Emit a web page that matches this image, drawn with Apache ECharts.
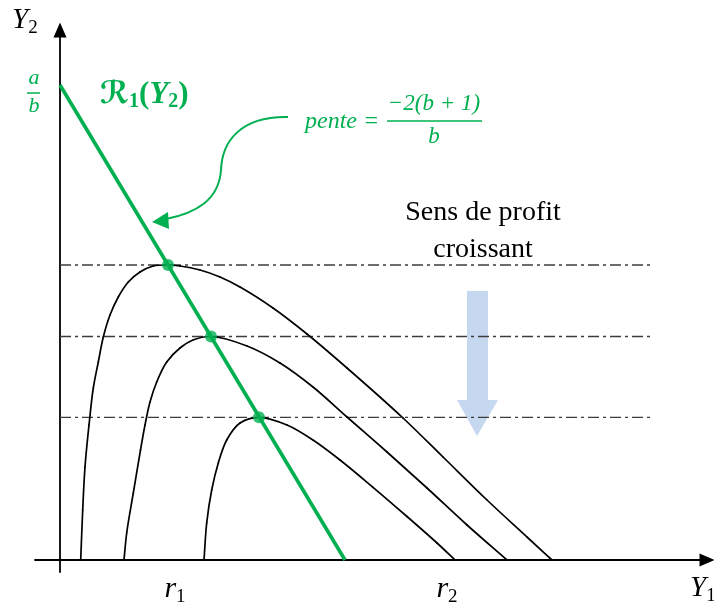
<!DOCTYPE html>
<html>
<head>
<meta charset="utf-8">
<script src="https://cdn.jsdelivr.net/npm/echarts@6/dist/echarts.min.js"></script>
<style>
  html, body { margin: 0; padding: 0; background: #fff; }
  #chart { width: 714px; height: 607px; }
</style>
</head>
<body>
<div id="chart"></div>
<script>
// Best-response line R1(Y2): from the intercept a/b down to the Y1 axis
const reactionLine = [[0, 47.5], [28.5, 0]];

// Iso-profit curves (Y1, Y2), highest level of Y2 first
const isoProfitHigh = [
  [2.07, 0], [2.27, 5.0], [2.5, 9.3], [2.9, 13.5], [3.33, 17.2], [3.83, 19.8],
  [4.33, 22.3], [5.0, 24.5], [5.83, 26.3], [6.83, 27.8], [8.0, 28.8], [9.33, 29.4],
  [10.8, 29.5], [12.0, 29.4], [14.0, 29.0], [16.0, 28.3], [18.0, 27.3], [21.3, 25.2],
  [24.7, 22.6], [28.7, 19.2], [34.3, 14.2], [38.3, 10.3], [42.7, 6.0], [46.7, 2.3],
  [49.2, 0]
];
const isoProfitMid = [
  [6.4, 0], [6.67, 2.7], [7.33, 6.7], [8.05, 11.0], [8.5, 13.5], [9.0, 15.8],
  [9.67, 17.8], [10.67, 19.8], [12.0, 21.2], [13.3, 22.0], [15.1, 22.35], [18.7, 21.4],
  [22.0, 19.7], [25.3, 17.3], [28.7, 14.3], [32.7, 10.8], [36.7, 7.2], [40.7, 3.5],
  [44.7, 0]
];
const isoProfitLow = [
  [14.4, 0], [14.67, 3.7], [15.17, 7.0], [15.83, 9.7], [16.67, 12.0], [18.0, 13.7],
  [19.9, 14.27], [22.7, 13.5], [25.3, 12.0], [28.0, 10.0], [31.3, 7.27], [34.7, 4.35],
  [37.7, 1.7], [39.5, 0]
];

// Tangency points of the iso-profit curves with R1
const tangencyPoints = [[10.8, 29.5], [15.1, 22.35], [19.9, 14.27]];

// Dash-dot reference levels
const levelValues = [29.5, 22.35, 14.27];
const levelEndX = 59;

// Labels under the Y1 axis
const xTickLabels = [{ x: 11.5, main: 'r', sub: '1' }, { x: 38.7, main: 'r', sub: '2' }];

const GREEN = '#00b050';
const MATH = "'Liberation Serif', 'DejaVu Serif', 'DejaVu Sans', serif";
const SERIF = "'Liberation Serif', 'DejaVu Serif', serif";

const chart = echarts.init(document.getElementById('chart'), null, { renderer: 'canvas' });

const axisCommon = {
  type: 'value',
  axisLine: {
    show: true,
    onZero: true,
    symbol: ['none', 'triangle'],
    symbolSize: [13, 15],
    lineStyle: { color: '#000', width: 1.8 }
  },
  axisTick: { show: false },
  axisLabel: { show: false },
  splitLine: { show: false }
};

const levelSeries = levelValues.map(v => ({
  type: 'line',
  data: [[0, v], [levelEndX, v]],
  symbol: 'none',
  silent: true,
  z: 1,
  lineStyle: { color: '#3c3c3c', width: 1.3, type: [11, 4, 3, 4] }
}));

// Smooth curve through the points: one centripetal Catmull-Rom segment per item,
// drawn in pixel space after projecting every point through the grid.
function curveSeries(points) {
  return {
    type: 'custom',
    coordinateSystem: 'cartesian2d',
    data: points,
    silent: true,
    z: 2,
    encode: { x: 0, y: 1 },
    renderItem: function (params, api) {
      const i = params.dataIndex;
      if (i >= points.length - 1) return null;
      const P = k => api.coord(points[Math.max(0, Math.min(points.length - 1, k))]);
      const p0 = P(i - 1), p1 = P(i), p2 = P(i + 1), p3 = P(i + 2);
      const dist = (a, b) => Math.hypot(b[0] - a[0], b[1] - a[1]);
      const l01 = Math.sqrt(dist(p0, p1)), l12 = Math.sqrt(dist(p1, p2)), l23 = Math.sqrt(dist(p2, p3));
      let c1, c2;
      if (l01 > 1e-6) {
        const a = 2 * l01 * l01 + 3 * l01 * l12 + l12 * l12, n = 3 * l01 * (l01 + l12);
        c1 = [0, 1].map(j => (p1[j] * a - p0[j] * l12 * l12 + p2[j] * l01 * l01) / n);
      } else {
        c1 = [0, 1].map(j => p1[j] + (p2[j] - p1[j]) / 3);
      }
      if (l23 > 1e-6) {
        const b = 2 * l23 * l23 + 3 * l23 * l12 + l12 * l12, m = 3 * l23 * (l23 + l12);
        c2 = [0, 1].map(j => (p2[j] * b + p1[j] * l23 * l23 - p3[j] * l12 * l12) / m);
      } else {
        c2 = [0, 1].map(j => p2[j] - (p2[j] - p1[j]) / 3);
      }
      return {
        type: 'bezierCurve',
        shape: { x1: p1[0], y1: p1[1], cpx1: c1[0], cpy1: c1[1], cpx2: c2[0], cpy2: c2[1], x2: p2[0], y2: p2[1] },
        style: { stroke: '#000', lineWidth: 1.7, fill: null, lineCap: 'round' }
      };
    }
  };
}

chart.setOption({
  animation: false,
  backgroundColor: '#fff',
  grid: { left: 35, right: 7, top: 30, bottom: 35 },
  xAxis: Object.assign({ min: -2.5, max: 64.7 }, axisCommon),
  yAxis: Object.assign({ min: -1.2, max: 53.0 }, axisCommon),
  series: [
    ...levelSeries,
    curveSeries(isoProfitHigh),
    curveSeries(isoProfitMid),
    curveSeries(isoProfitLow),
    {
      type: 'line',
      data: reactionLine,
      symbol: 'none',
      silent: true,
      z: 3,
      lineStyle: { color: GREEN, width: 3.6 }
    },
    {
      type: 'scatter',
      data: tangencyPoints,
      symbol: 'circle',
      symbolSize: 12,
      silent: true,
      z: 4,
      itemStyle: { color: GREEN }
    }
  ]
});

// Text measuring for laying out math runs (main letter + subscript)
const measureCtx = document.createElement('canvas').getContext('2d');
function fontOf(p) {
  return `${p.italic ? 'italic ' : ''}${p.bold ? 'bold ' : ''}${p.size}px ${p.family || MATH}`;
}
function widthOf(p) {
  measureCtx.font = fontOf(p);
  return measureCtx.measureText(p.t).width;
}
function textRun(x, y, parts, color, align) {
  const total = parts.reduce((s, p) => s + widthOf(p) + (p.gap || 0), 0);
  let cx = align === 'center' ? x - total / 2 : (align === 'right' ? x - total : x);
  return parts.map(p => {
    const w = widthOf(p);
    const el = {
      type: 'text',
      x: cx + (p.gap || 0),
      y: y + (p.dy || 0),
      silent: true,
      z: 10,
      style: {
        text: p.t,
        fill: color,
        fontSize: p.size,
        fontFamily: p.family || MATH,
        fontStyle: p.italic ? 'italic' : 'normal',
        fontWeight: p.bold ? 'bold' : 'normal',
        align: 'left',
        verticalAlign: 'middle'
      }
    };
    cx += w + (p.gap || 0);
    return el;
  });
}

const px = (x, y) => chart.convertToPixel({ gridIndex: 0 }, [x, y]);
const origin = px(0, 0);
const intercept = px(reactionLine[0][0], reactionLine[0][1]);

const elements = [];

// Axis names
elements.push(...textRun(12, 20, [
  { t: 'Y', size: 29, italic: true },
  { t: '2', size: 19, dy: 8 }
], '#000', 'left'));
elements.push(...textRun(690, 588, [
  { t: 'Y', size: 29, italic: true },
  { t: '1', size: 19, dy: 8 }
], '#000', 'left'));

// r1, r2 under the horizontal axis
xTickLabels.forEach(l => {
  const p = px(l.x, 0);
  elements.push(...textRun(p[0], origin[1] + 29, [
    { t: l.main, size: 30, italic: true },
    { t: l.sub, size: 19, dy: 8 }
  ], '#000', 'center'));
});

// a/b at the intercept of R1 with the Y2 axis
elements.push(
  { type: 'text', x: intercept[0] - 26, y: intercept[1] - 7, silent: true,
    style: { text: 'a', fill: GREEN, fontSize: 22, fontFamily: MATH, fontStyle: 'italic', align: 'center', verticalAlign: 'middle' } },
  { type: 'line', silent: true, shape: { x1: intercept[0] - 33, y1: intercept[1] + 8, x2: intercept[0] - 20, y2: intercept[1] + 8 },
    style: { stroke: GREEN, lineWidth: 1.5 } },
  { type: 'text', x: intercept[0] - 26, y: intercept[1] + 21, silent: true,
    style: { text: 'b', fill: GREEN, fontSize: 22, fontFamily: MATH, fontStyle: 'italic', align: 'center', verticalAlign: 'middle' } }
);

// R1(Y2) title of the green line
elements.push(...textRun(100, 95, [
  { t: 'ℛ', size: 31, bold: true },
  { t: '1', size: 20, bold: true, dy: 7 },
  { t: '(', size: 31, bold: true },
  { t: 'Y', size: 31, bold: true, italic: true },
  { t: '2', size: 20, bold: true, dy: 7 },
  { t: ')', size: 31, bold: true }
], GREEN, 'left'));

// Slope annotation
elements.push(...textRun(305, 122, [{ t: 'pente =', size: 24, italic: true }], GREEN, 'left'));
elements.push(
  { type: 'text', x: 434, y: 104, silent: true,
    style: { text: '−2(b + 1)', fill: GREEN, fontSize: 23, fontFamily: MATH, fontStyle: 'italic', align: 'center', verticalAlign: 'middle' } },
  { type: 'line', silent: true, shape: { x1: 387, y1: 121, x2: 482, y2: 121 }, style: { stroke: GREEN, lineWidth: 1.5 } },
  { type: 'text', x: 434, y: 137, silent: true,
    style: { text: 'b', fill: GREEN, fontSize: 23, fontFamily: MATH, fontStyle: 'italic', align: 'center', verticalAlign: 'middle' } }
);

// Curved pointer from the slope annotation to R1
elements.push(
  { type: 'bezierCurve', silent: true,
    shape: { x1: 288, y1: 117, cpx1: 240, cpy1: 116, cpx2: 222, cpy2: 142, x2: 221, y2: 170 },
    style: { stroke: GREEN, lineWidth: 2, fill: null } },
  { type: 'bezierCurve', silent: true,
    shape: { x1: 221, y1: 170, cpx1: 219, cpy1: 200, cpx2: 196, cpy2: 213, x2: 166, y2: 219 },
    style: { stroke: GREEN, lineWidth: 2, fill: null } },
  { type: 'polygon', silent: true,
    shape: { points: [[152, 222], [168, 212], [169, 229]] },
    style: { fill: GREEN } }
);

// Direction of increasing profit
elements.push(
  { type: 'text', x: 483, y: 213, silent: true,
    style: { text: 'Sens de profit', fill: '#000', fontSize: 28, fontFamily: SERIF, align: 'center', verticalAlign: 'middle' } },
  { type: 'text', x: 483, y: 250, silent: true,
    style: { text: 'croissant', fill: '#000', fontSize: 28, fontFamily: SERIF, align: 'center', verticalAlign: 'middle' } },
  { type: 'polygon', silent: true, z: 0,
    shape: { points: [[467, 291], [488, 291], [488, 400], [498, 400], [477, 436], [457, 400], [467, 400]] },
    style: { fill: '#c6d8f0' } }
);

chart.setOption({ graphic: { elements } });
</script>
</body>
</html>
